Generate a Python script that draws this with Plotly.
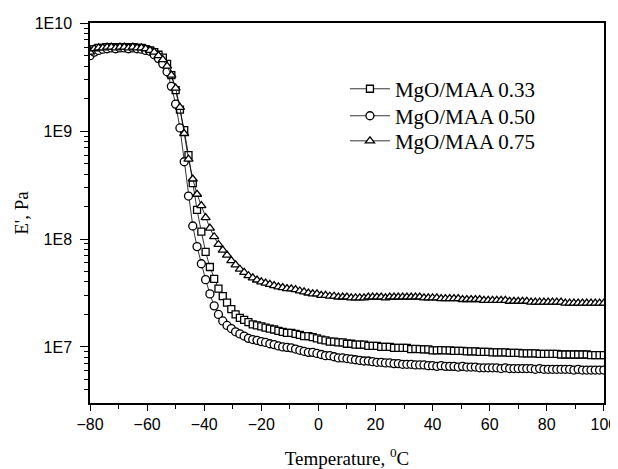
import plotly.graph_objects as go

# Temperature sampling grid (deg C), one reading every 1.5 deg from -80 to 100
temperature = [round(-80 + 1.5 * i, 1) for i in range(121)]

# E' (Pa)
mgo_033 = [
    5.5e9, 5.75e9, 5.9e9, 5.9e9, 6.0e9, 5.9e9, 6.0e9, 6.0e9, 5.9e9, 6.0e9,
    6.0e9, 5.9e9, 5.9e9, 5.75e9, 5.6e9, 5.4e9, 5.1e9, 4.8e9, 4.2e9, 3.3e9,
    2.4e9, 1.58e9, 1.02e9, 6.0e8, 3.3e8, 1.86e8, 1.17e8, 7.6e7, 5.5e7, 4.27e7,
    3.47e7, 2.95e7, 2.57e7, 2.24e7, 2.0e7, 1.86e7, 1.78e7, 1.70e7, 1.62e7, 1.58e7,
    1.55e7, 1.51e7, 1.48e7, 1.45e7, 1.41e7, 1.38e7, 1.35e7, 1.35e7, 1.32e7, 1.29e7,
    1.26e7, 1.26e7, 1.23e7, 1.20e7, 1.17e7, 1.15e7, 1.12e7, 1.12e7, 1.10e7, 1.10e7,
    1.07e7, 1.07e7, 1.05e7, 1.05e7, 1.05e7, 1.02e7, 1.02e7, 1.02e7, 1.0e7, 1.0e7,
    1.0e7, 9.8e6, 9.8e6, 9.8e6, 9.8e6, 9.55e6, 9.6e6, 9.55e6, 9.5e6, 9.5e6,
    9.3e6, 9.3e6, 9.35e6, 9.3e6, 9.3e6, 9.2e6, 9.2e6, 9.2e6, 9.1e6, 9.1e6,
    9.1e6, 9.0e6, 9.0e6, 9.0e6, 8.9e6, 8.9e6, 8.9e6, 8.9e6, 8.8e6, 8.8e6,
    8.8e6, 8.7e6, 8.7e6, 8.7e6, 8.7e6, 8.6e6, 8.6e6, 8.6e6, 8.6e6, 8.6e6,
    8.5e6, 8.5e6, 8.5e6, 8.5e6, 8.5e6, 8.5e6, 8.5e6, 8.4e6, 8.4e6, 8.4e6,
    8.4e6,
]
mgo_050 = [
    5.0e9, 5.4e9, 5.6e9, 5.75e9, 5.8e9, 5.9e9, 5.8e9, 5.9e9, 5.9e9, 5.8e9,
    5.9e9, 5.8e9, 5.75e9, 5.6e9, 5.5e9, 5.1e9, 4.7e9, 4.2e9, 3.55e9, 2.6e9,
    1.78e9, 1.07e9, 5.2e8, 2.5e8, 1.32e8, 8.5e7, 5.9e7, 4.2e7, 3.1e7, 2.4e7,
    2.0e7, 1.74e7, 1.58e7, 1.48e7, 1.38e7, 1.32e7, 1.26e7, 1.20e7, 1.17e7, 1.15e7,
    1.12e7, 1.10e7, 1.07e7, 1.05e7, 1.02e7, 1.0e7, 9.9e6, 9.8e6, 9.55e6, 9.3e6,
    9.1e6, 8.9e6, 8.9e6, 8.7e6, 8.5e6, 8.3e6, 8.3e6, 8.1e6, 7.9e6, 7.9e6,
    7.8e6, 7.7e6, 7.6e6, 7.5e6, 7.4e6, 7.4e6, 7.3e6, 7.2e6, 7.2e6, 7.1e6,
    7.1e6, 7.0e6, 7.0e6, 6.9e6, 6.9e6, 6.9e6, 6.8e6, 6.8e6, 6.8e6, 6.7e6,
    6.7e6, 6.6e6, 6.7e6, 6.6e6, 6.6e6, 6.6e6, 6.5e6, 6.6e6, 6.5e6, 6.5e6,
    6.5e6, 6.4e6, 6.4e6, 6.4e6, 6.4e6, 6.4e6, 6.3e6, 6.4e6, 6.3e6, 6.3e6,
    6.3e6, 6.3e6, 6.3e6, 6.3e6, 6.2e6, 6.3e6, 6.2e6, 6.2e6, 6.2e6, 6.2e6,
    6.2e6, 6.2e6, 6.2e6, 6.1e6, 6.2e6, 6.1e6, 6.1e6, 6.1e6, 6.1e6, 6.1e6,
    6.1e6,
]
mgo_075 = [
    5.4e9, 5.8e9, 5.9e9, 5.9e9, 6.0e9, 6.0e9, 5.9e9, 6.0e9, 6.0e9, 5.9e9,
    6.0e9, 5.9e9, 5.9e9, 5.8e9, 5.6e9, 5.4e9, 5.0e9, 4.6e9, 4.0e9, 3.3e9,
    2.5e9, 1.66e9, 9.5e8, 5.5e8, 3.6e8, 2.6e8, 2.04e8, 1.58e8, 1.26e8, 1.05e8,
    8.9e7, 7.9e7, 7.1e7, 6.3e7, 5.75e7, 5.25e7, 4.9e7, 4.57e7, 4.37e7, 4.17e7,
    4.0e7, 3.9e7, 3.8e7, 3.7e7, 3.6e7, 3.55e7, 3.47e7, 3.45e7, 3.39e7, 3.3e7,
    3.24e7, 3.16e7, 3.1e7, 3.1e7, 3.0e7, 3.0e7, 2.95e7, 2.95e7, 2.9e7, 2.9e7,
    2.9e7, 2.85e7, 2.85e7, 2.85e7, 2.85e7, 2.9e7, 2.9e7, 2.9e7, 2.9e7, 2.85e7,
    2.9e7, 2.9e7, 2.9e7, 2.9e7, 2.9e7, 2.9e7, 2.9e7, 2.9e7, 2.85e7, 2.85e7,
    2.85e7, 2.85e7, 2.8e7, 2.8e7, 2.8e7, 2.8e7, 2.8e7, 2.75e7, 2.75e7, 2.75e7,
    2.75e7, 2.75e7, 2.7e7, 2.7e7, 2.7e7, 2.7e7, 2.7e7, 2.7e7, 2.65e7, 2.65e7,
    2.65e7, 2.65e7, 2.65e7, 2.6e7, 2.6e7, 2.6e7, 2.6e7, 2.6e7, 2.6e7, 2.6e7,
    2.6e7, 2.55e7, 2.55e7, 2.55e7, 2.55e7, 2.55e7, 2.55e7, 2.55e7, 2.55e7, 2.55e7,
    2.55e7,
]

series_names = ["MgO/MAA 0.33", "MgO/MAA 0.50", "MgO/MAA 0.75"]
x_tick_vals = [-80, -60, -40, -20, 0, 20, 40, 60, 80, 100]
x_minor_vals = [-70, -50, -30, -10, 10, 30, 50, 70, 90]
y_tick_vals = [1e7, 1e8, 1e9, 1e10]
y_tick_text = ["1E7", "1E8", "1E9", "1E10"]
y_minor_vals = [m * 10 ** e for e in range(6, 10) for m in range(2, 10) if m * 10 ** e >= 3e6]

fig = go.Figure()
specs = [(mgo_033, "square", 7, "legend"),
         (mgo_050, "circle", 8, "legend2"),
         (mgo_075, "triangle-up", 8, "legend3")]
for (vals, sym, sz, leg), name in zip(specs, series_names):
    fig.add_trace(go.Scatter(
        x=temperature, y=vals, name=name, mode="lines+markers", legend=leg,
        line=dict(color="black", width=0.8),
        marker=dict(symbol=sym, size=sz, color="white",
                    line=dict(color="black", width=1.3)),
    ))

axis_font = dict(family="Liberation Sans, Arial, sans-serif", size=16, color="black")
title_font = dict(family="Liberation Serif, Times New Roman, serif", size=19, color="black")
legend_font = dict(family="Liberation Serif, Times New Roman, serif", size=21, color="black")


def legend_box(y):
    return dict(x=0.496, y=y, xanchor="left", yanchor="middle", font=legend_font,
                bgcolor="rgba(0,0,0,0)", itemwidth=40)


# page body has an 8px default margin, so the figure is sized/offset to compensate
fig.update_layout(
    width=610, height=461,
    margin=dict(l=82, r=14, t=15, b=66),
    paper_bgcolor="white", plot_bgcolor="white",
    showlegend=True,
    legend=legend_box(0.826),
    legend2=legend_box(0.755),
    legend3=legend_box(0.689),
    xaxis=dict(
        range=[-80, 100.05], tickvals=x_tick_vals, ticks="outside", ticklen=6,
        tickwidth=1, tickcolor="black", showline=True, linecolor="black",
        linewidth=1.5, mirror=True, showgrid=False, zeroline=False,
        tickfont=axis_font, automargin=False, ticklabeloverflow="allow",
        minor=dict(tickvals=x_minor_vals, ticks="outside", ticklen=4,
                   tickcolor="black", showgrid=False),
        title=dict(text="Temperature, <sup>0</sup>C", font=title_font, standoff=24),
    ),
    yaxis=dict(
        type="log", range=[6.48, 10.002], tickvals=y_tick_vals, ticktext=y_tick_text,
        ticks="outside", ticklen=8, tickwidth=1, tickcolor="black",
        ticklabelstandoff=5, ticklabeloverflow="allow",
        showline=True, linecolor="black", linewidth=1.5, mirror=True,
        showgrid=False, zeroline=False, tickfont=axis_font, automargin=False,
        minor=dict(tickvals=y_minor_vals, ticks="outside", ticklen=4,
                   tickcolor="black", showgrid=False),
        title=dict(text="E', Pa", font=title_font, standoff=1),
    ),
)

fig.write_html("out.html")
